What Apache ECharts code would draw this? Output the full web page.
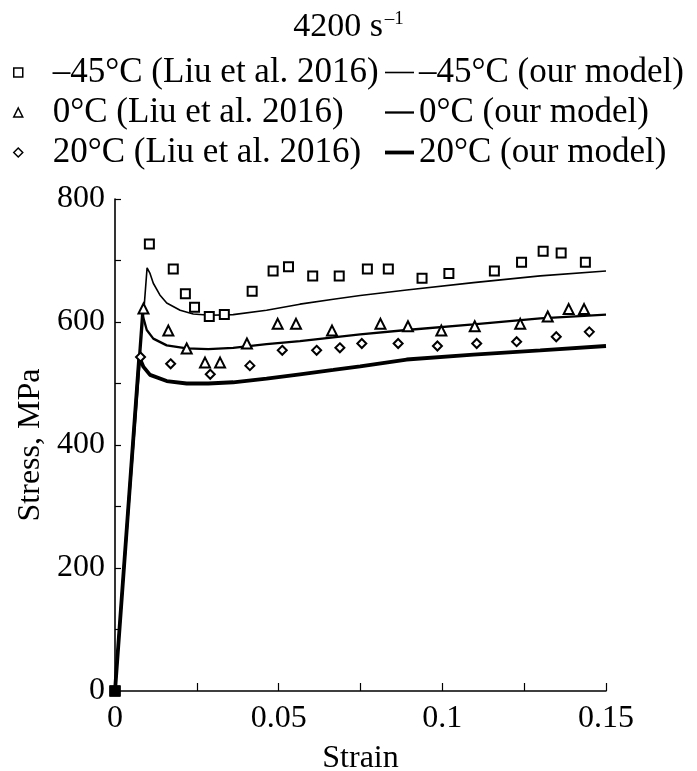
<!DOCTYPE html>
<html>
<head>
<meta charset="utf-8">
<script src="https://cdn.jsdelivr.net/npm/echarts@6/dist/echarts.min.js"></script>
<style>
  html, body { margin: 0; padding: 0; background: #fff; }
  #chart { width: 697px; height: 771px; }
</style>
</head>
<body>
<div id="chart"></div>
<script>
const expM45 = [
  [0, 0], [0.0105, 727], [0.0178, 686], [0.0215, 646], [0.0243, 624], [0.0288, 609],
  [0.0334, 612], [0.0419, 650], [0.0483, 683], [0.053, 690], [0.0604, 675],
  [0.0685, 675], [0.0771, 686], [0.0835, 686], [0.0938, 671], [0.102, 679],
  [0.1159, 683], [0.1242, 697], [0.1308, 715], [0.1363, 712], [0.1437, 697]
];
const exp0 = [
  [0, 0], [0.0087, 622], [0.0163, 586], [0.0219, 557], [0.0275, 534], [0.0321, 534],
  [0.0403, 565], [0.0497, 597], [0.0553, 597], [0.0663, 586], [0.0811, 597],
  [0.0895, 593], [0.0997, 586], [0.1099, 593], [0.1238, 597], [0.1322, 609],
  [0.1386, 621], [0.1433, 621]
];
const exp20 = [
  [0, 0], [0.0078, 543], [0.017, 532], [0.0291, 515], [0.0412, 529], [0.0511, 554],
  [0.0616, 554], [0.0687, 558], [0.0754, 565], [0.0865, 565], [0.0985, 561],
  [0.1105, 565], [0.1227, 568], [0.1348, 576], [0.1449, 584]
];

// model curves
const modelM45 = [
  [0, 0], [0.0098, 688], [0.0107, 679], [0.0117, 663], [0.0137, 644], [0.0158, 631],
  [0.0199, 619], [0.0239, 613], [0.029, 611], [0.0361, 612], [0.0463, 619],
  [0.0565, 629], [0.0667, 637], [0.0749, 643], [0.0891, 652], [0.1095, 664],
  [0.1299, 675], [0.15, 683]
];
const model0 = [
  [0, 0], [0.0083, 614], [0.0097, 587], [0.0117, 573], [0.0158, 562], [0.0219, 557],
  [0.0285, 556], [0.0361, 558], [0.0463, 564], [0.0565, 569], [0.0667, 575],
  [0.0749, 580], [0.0891, 587], [0.1095, 596], [0.1299, 606], [0.15, 612]
];
const model20 = [
  [0, 0], [0.0074, 543], [0.0087, 527], [0.0107, 514], [0.0158, 504], [0.0219, 500],
  [0.0285, 500], [0.0361, 502], [0.0463, 508], [0.0565, 515], [0.0667, 522],
  [0.0749, 528], [0.0891, 539], [0.1095, 547], [0.1299, 554], [0.15, 561]
];

const expNames = ['\u201345\u00b0C (Liu et al. 2016)', '0\u00b0C (Liu et al. 2016)', '20\u00b0C (Liu et al. 2016)'];
const modelNames = ['\u201345\u00b0C (our model)', '0\u00b0C (our model)', '20\u00b0C (our model)'];
const expSymbols = ['rect', 'triangle', 'diamond'];
const modelWidths = [1.6, 2.3, 3.8];

const FONT = '"Liberation Serif", "Times New Roman", serif';
const LEGEND_FONT = 35;
const ROW_TOP = [55, 95, 135];

const chart = echarts.init(document.getElementById('chart'));

// the overlapping markers at the origin look like one filled square
const scatter = (name, data, symbol, size) => ({
  name: name,
  type: 'scatter',
  data: data.map(p => (p[0] === 0 && p[1] === 0
    ? { value: p, symbol: 'rect', symbolSize: 9, itemStyle: { color: '#000' } }
    : p)),
  symbol: symbol,
  symbolSize: size,
  itemStyle: { color: '#fff', borderColor: '#000', borderWidth: 2, opacity: 1 },
  z: 3
});

const line = (name, data, width) => ({
  name: name,
  type: 'line',
  data: data,
  symbol: 'none',
  smooth: false,
  lineStyle: { color: '#000', width: width },
  itemStyle: { color: '#000' },
  z: 2
});

const legendText = { fontFamily: FONT, fontSize: LEGEND_FONT, color: '#000' };

const legends = [
  {
    data: expNames.map((n, i) => ({ name: n, icon: expSymbols[i] })),
    orient: 'vertical',
    left: 13,
    top: ROW_TOP[0],
    padding: 0,
    itemWidth: 9,
    itemHeight: 9,
    itemGap: 5,
    selectedMode: false,
    itemStyle: { borderWidth: 1.5 },
    textStyle: Object.assign({ padding: [0, 0, 0, 25] }, legendText)
  }
];
modelNames.forEach((n, i) => {
  legends.push({
    data: [{ name: n, icon: 'rect' }],
    left: 385,
    top: ROW_TOP[i],
    padding: 0,
    itemWidth: 29,
    itemHeight: modelWidths[i],
    selectedMode: false,
    textStyle: legendText
  });
});

chart.setOption({
  animation: false,
  textStyle: { fontFamily: FONT, color: '#000' },
  title: {
    text: '4200 s{sup|\u20131}',
    left: 'center',
    top: 5,
    textStyle: {
      fontFamily: FONT,
      fontSize: 34,
      fontWeight: 'normal',
      color: '#000',
      rich: {
        sup: { fontFamily: FONT, fontSize: 19, color: '#000', verticalAlign: 'top', padding: [0, 0, 12, 2] }
      }
    }
  },
  legend: legends,
  grid: { left: 115, right: 91, top: 199, bottom: 80, containLabel: false, outerBoundsMode: 'none' },
  xAxis: {
    type: 'value',
    min: 0,
    max: 0.15,
    interval: 0.025,
    name: 'Strain',
    nameLocation: 'middle',
    nameGap: 52,
    nameTextStyle: { fontFamily: FONT, fontSize: 32, color: '#000' },
    axisLine: { lineStyle: { color: '#000', width: 1.6 } },
    axisTick: { inside: true, length: 8, lineStyle: { color: '#000', width: 1.2 } },
    axisLabel: {
      fontFamily: FONT,
      fontSize: 32,
      color: '#000',
      margin: 12,
      formatter: v => (Math.abs(v * 20 - Math.round(v * 20)) < 1e-6 ? String(+v.toFixed(2)) : '')
    },
    splitLine: { show: false }
  },
  yAxis: {
    type: 'value',
    min: 0,
    max: 800,
    interval: 100,
    name: 'Stress, MPa',
    nameLocation: 'middle',
    nameGap: 57,
    nameTextStyle: { fontFamily: FONT, fontSize: 32, color: '#000' },
    axisLine: { show: true, lineStyle: { color: '#000', width: 1.6 } },
    axisTick: { show: true, inside: true, length: 6, lineStyle: { color: '#000', width: 1.2 } },
    axisLabel: {
      fontFamily: FONT,
      fontSize: 32,
      color: '#000',
      margin: 10,
      formatter: v => (v % 200 === 0 ? String(v) : '')
    },
    splitLine: { show: false }
  },
  series: [
    scatter(expNames[0], expM45, 'rect', 9),
    scatter(expNames[1], exp0, 'triangle', 10),
    scatter(expNames[2], exp20, 'diamond', 9),
    line(modelNames[0], modelM45, modelWidths[0]),
    line(modelNames[1], model0, modelWidths[1]),
    line(modelNames[2], model20, modelWidths[2])
  ]
});
</script>
</body>
</html>
